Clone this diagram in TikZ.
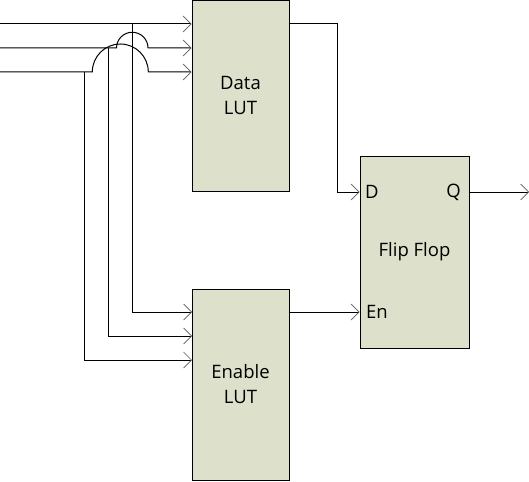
\documentclass[tikz,border=0pt]{standalone}
\usepackage{fontspec}
\setmainfont{Open Sans}
\usetikzlibrary{arrows.meta}
\definecolor{boxfill}{RGB}{221,224,203}
\tikzset{
  blockbox/.style={draw=black, line width=1pt, fill=boxfill, align=center,
    font=\fontsize{18.5}{25}\selectfont, inner sep=0pt},
  wire/.style={line width=1pt, black},
  arr/.style={wire, -{Straight Barb[length=8pt,width=16pt,line width=0.7pt,color=black!65]}},
  pinlabel/.style={font=\fontsize{18.5}{25}\selectfont, inner sep=0pt},
}
\begin{document}
\begin{tikzpicture}[x=1pt,y=-1pt]
\useasboundingbox (0,0) rectangle (529,481);
% blocks
\node[blockbox, minimum width=97pt, minimum height=190.5pt] (dl) at (240.5,95.75) {Data\\LUT};
\node[blockbox, minimum width=97pt, minimum height=191pt] (el) at (240.5,384.5) {Enable\\LUT};
\node[blockbox, minimum width=109pt, minimum height=192pt] (ff) at (414.5,252) {Flip Flop};
\node[pinlabel, anchor=west] (dlab) at (365,192) {D};
\node[pinlabel, anchor=east] (qlab) at (461,192) {Q};
\node[pinlabel, anchor=west] (enlab) at (366,312) {En};
% free ends
\coordinate (i1) at (0,24);
\coordinate (i2) at (0,48);
\coordinate (i3) at (0,72);
\coordinate (j1) at (132,24);
\coordinate (j2) at (108,48);
\coordinate (j3) at (84,72);
\coordinate (e1) at (192,312);
\coordinate (e2) at (192,336);
\coordinate (e3) at (192,360);
\coordinate (q) at (529,192);
% inputs to Data LUT
\draw[arr] (i1) -- (dl.west |- i1);
\draw[arr] (i2) -- (116.5,48) arc[start angle=180, end angle=360, radius=15.75] -- (dl.west |- i2);
\draw[arr] (i3) -- (92.3,72) arc[start angle=180, end angle=360, radius=28] -- (dl.west |- i3);
% branches to Enable LUT
\draw[arr] (j1) |- (e1);
\draw[arr] (j2) |- (e2);
\draw[arr] (j3) |- (e3);
% outputs
\draw[arr] (dl.east |- i1) -| (337,192) -- (ff.west |- dlab);
\draw[arr] (el.east |- e1) -- (ff.west |- e1);
\draw[arr] (ff.east |- qlab) -- (q);
\end{tikzpicture}
\end{document}
